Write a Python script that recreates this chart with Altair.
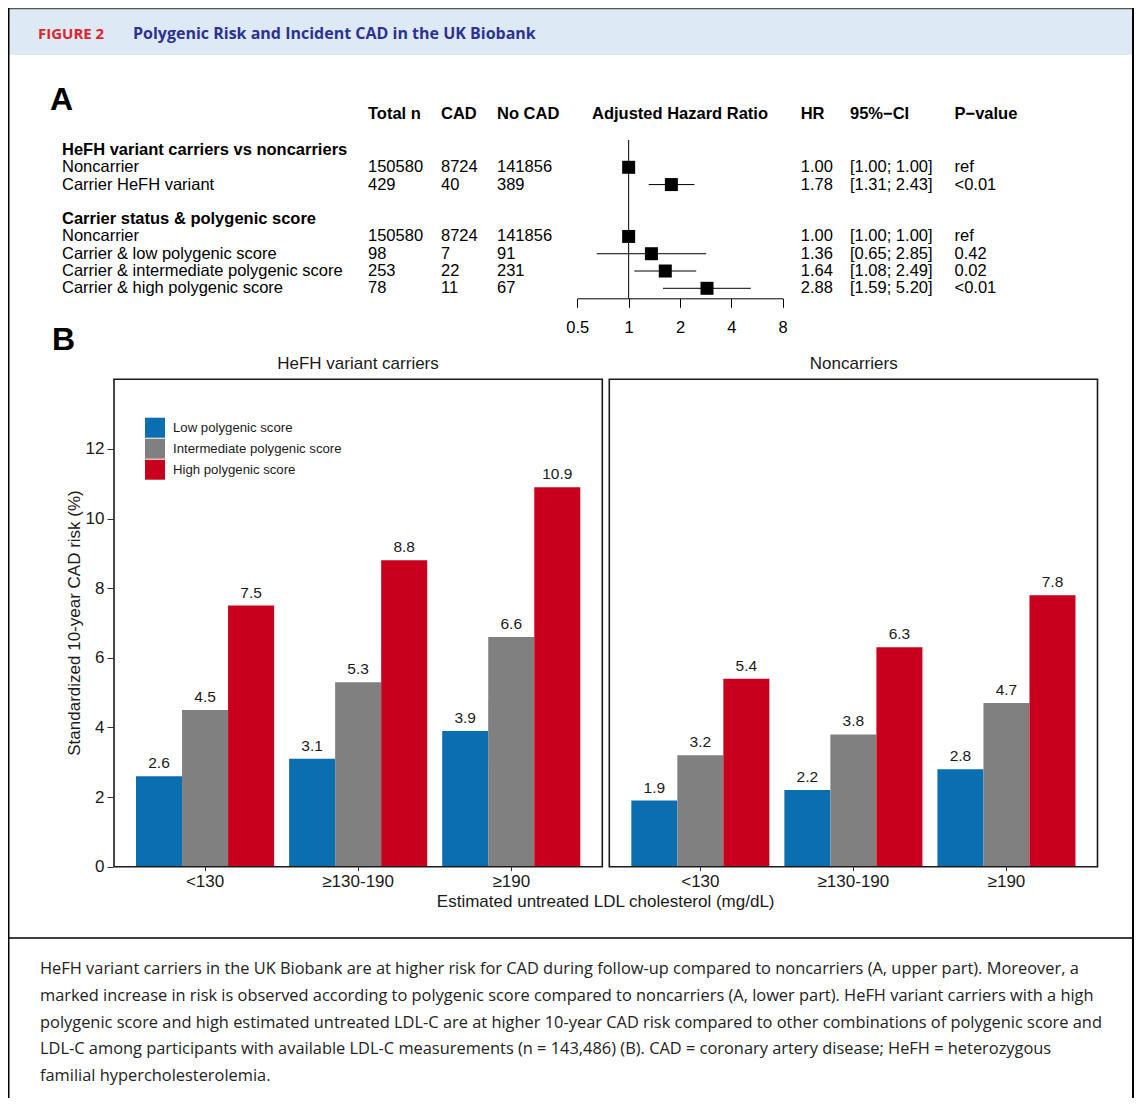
import altair as alt
import pandas as pd

W, H = 1126, 1090
FONT = "Liberation Sans"
CAPFONT = "Open Sans"

# ---------------- Panel A data ----------------
group_headers = ["HeFH variant carriers vs noncarriers", "Carrier status & polygenic score"]
group_rows = [0, 4]
row_labels = ["Noncarrier", "Carrier HeFH variant", "Noncarrier",
              "Carrier & low polygenic score", "Carrier & intermediate polygenic score",
              "Carrier & high polygenic score"]
row_idx = [1, 2, 5, 6, 7, 8]
total_n = [150580, 429, 150580, 98, 253, 78]
cad = [8724, 40, 8724, 7, 22, 11]
no_cad = [141856, 389, 141856, 91, 231, 67]
hr = [1.00, 1.78, 1.00, 1.36, 1.64, 2.88]
ci_lo = [1.00, 1.31, 1.00, 0.65, 1.08, 1.59]
ci_hi = [1.00, 2.43, 1.00, 2.85, 2.49, 5.20]
pval = ["ref", "<0.01", "ref", "0.42", "0.02", "<0.01"]
col_headers = ["Total n", "CAD", "No CAD", "HR", "95%\u2212CI", "P\u2212value"]
col_header_idx = [1, 2, 3, 4, 5, 6]
hr_ticks = [0.5, 1, 2, 4, 8]

# ---------------- Panel B data ----------------
ldl_levels = ["<130", "\u2265130-190", "\u2265190"]
score_levels = ["Low polygenic score", "Intermediate polygenic score", "High polygenic score"]
score_colors = ["#0a6eb0", "#808080", "#c8001e"]
carrier_values = [[2.6, 4.5, 7.5], [3.1, 5.3, 8.8], [3.9, 6.6, 10.9]]
noncarrier_values = [[1.9, 3.2, 5.4], [2.2, 3.8, 6.3], [2.8, 4.7, 7.8]]
y_ticks = [0, 2, 4, 6, 8, 10, 12]

caption_lines = [
    "HeFH variant carriers in the UK Biobank are at higher risk for CAD during follow-up compared to noncarriers (A, upper part). Moreover, a",
    "marked increase in risk is observed according to polygenic score compared to noncarriers (A, lower part). HeFH variant carriers with a high",
    "polygenic score and high estimated untreated LDL-C are at higher 10-year CAD risk compared to other combinations of polygenic score and",
    "LDL-C among participants with available LDL-C measurements (n = 143,486) (B). CAD = coronary artery disease; HeFH = heterozygous",
    "familial hypercholesterolemia.",
]

# ---------------- tables ----------------
table_rows = []
for i in range(len(row_labels)):
    vals = [row_labels[i], str(total_n[i]), str(cad[i]), str(no_cad[i]),
            f"{hr[i]:.2f}", f"[{ci_lo[i]:.2f}; {ci_hi[i]:.2f}]", pval[i]]
    for c, v in enumerate(vals):
        table_rows.append({"row": row_idx[i], "col": c, "txt": v})
table_df = pd.DataFrame(table_rows)
groups_df = pd.DataFrame({"row": group_rows, "col": [0, 0], "txt": group_headers})
colhead_df = pd.DataFrame({"col": col_header_idx, "txt": col_headers})
forest_df = pd.DataFrame({"row": row_idx, "hr": hr, "lo": ci_lo, "hi": ci_hi})
ref_df = pd.DataFrame({"ref": [1.0]})

bars = []
for panel, vals in (("carrier", carrier_values), ("noncarrier", noncarrier_values)):
    for li, l in enumerate(ldl_levels):
        for si, s in enumerate(score_levels):
            bars.append({"panel": panel, "ldl": l, "score": s, "value": vals[li][si]})
bars_df = pd.DataFrame(bars)
cap_df = pd.DataFrame({"i": list(range(len(caption_lines))), "line": caption_lines})
one = pd.DataFrame({"k": [0]})

# ---------------- scales ----------------
col_scale = alt.Scale(domain=[0, 1, 2, 3, 4, 5, 6],
                      range=[54, 360, 433, 489, 792.7, 842, 946.5])
row_scale = alt.Scale(domain=[0, 8], range=[142, 280.3])
log_scale = alt.Scale(type="log", base=2, domain=[0.5, 8], range=[569.3, 774.7])
y_bar = alt.Scale(domain=[0, 14], range=[858.7, 371.3])
x_left = alt.Scale(domain=ldl_levels, range=[106, 594.3], paddingInner=0.098, paddingOuter=0.1438)
x_right = alt.Scale(domain=ldl_levels, range=[601.3, 1089.5], paddingInner=0.098, paddingOuter=0.1438)
off_scale = alt.Scale(domain=score_levels, paddingInner=0, paddingOuter=0)
off_scale_txt = alt.Scale(type="point", domain=score_levels, padding=0.5)
color_scale = alt.Scale(domain=score_levels, range=score_colors)

layers = []

def deco_text(txt, x, y, size, weight="normal", color="black", align="left",
              baseline="alphabetic", font=FONT, angle=0):
    return alt.Chart(one).mark_text(
        align=align, baseline=baseline, font=font, fontSize=size, fontWeight=weight,
        color=color, angle=angle
    ).encode(x=alt.value(x), y=alt.value(y), text=alt.value(txt))

# header band + frame
layers.append(alt.Chart(one).mark_rect(color="#dde9f5").encode(
    x=alt.value(1), x2=alt.value(W - 1), y=alt.value(1), y2=alt.value(47)))
layers.append(alt.Chart(one).mark_rule(color="#555555", strokeWidth=1.5).encode(
    x=alt.value(0), x2=alt.value(W), y=alt.value(0.5)))
layers.append(alt.Chart(one).mark_rule(color="black", strokeWidth=2).encode(
    x=alt.value(0.5), y=alt.value(0), y2=alt.value(H)))
layers.append(alt.Chart(one).mark_rule(color="black", strokeWidth=2).encode(
    x=alt.value(W - 1), y=alt.value(0), y2=alt.value(H)))
layers.append(alt.Chart(one).mark_rule(color="black", strokeWidth=1.5).encode(
    x=alt.value(0), x2=alt.value(W), y=alt.value(930)))

layers.append(deco_text("FIGURE 2", 30, 31, 15, "bold", "#e0232b", font=CAPFONT))
layers.append(deco_text("Polygenic Risk and Incident CAD in the UK Biobank", 125, 31, 16,
                        "bold", "#2d3192", font=CAPFONT))
layers.append(deco_text("A", 42, 102, 32, "bold"))
layers.append(deco_text("B", 44, 342, 32, "bold"))

# ---------------- Panel A ----------------
layers.append(alt.Chart(colhead_df).mark_text(
    align="left", baseline="middle", font=FONT, fontSize=16.5, fontWeight="bold", color="black"
).encode(x=alt.X("col:Q", scale=col_scale, axis=None), y=alt.value(106), text="txt:N"))
layers.append(deco_text("Adjusted Hazard Ratio", 672, 106, 16.5, "bold", align="center",
                        baseline="middle"))
layers.append(alt.Chart(groups_df).mark_text(
    align="left", baseline="middle", font=FONT, fontSize=16.5, fontWeight="bold", color="black"
).encode(x=alt.X("col:Q", scale=col_scale, axis=None),
         y=alt.Y("row:Q", scale=row_scale, axis=None), text="txt:N"))
layers.append(alt.Chart(table_df).mark_text(
    align="left", baseline="middle", font=FONT, fontSize=16.5, color="black"
).encode(x=alt.X("col:Q", scale=col_scale, axis=None),
         y=alt.Y("row:Q", scale=row_scale, axis=None), text="txt:N"))

layers.append(alt.Chart(ref_df).mark_rule(color="black", strokeWidth=1).encode(
    x=alt.X("ref:Q", scale=log_scale, axis=None), y=alt.value(132), y2=alt.value(290.3)))
layers.append(alt.Chart(forest_df).mark_rule(color="black", strokeWidth=1).encode(
    x=alt.X("lo:Q", scale=log_scale, axis=None), x2="hi:Q",
    y=alt.Y("row:Q", scale=row_scale, axis=None)))
layers.append(alt.Chart(forest_df).mark_square(size=169, color="black", opacity=1).encode(
    x=alt.X("hr:Q", scale=log_scale, title=None,
            axis=alt.Axis(orient="bottom", offset=290.3 - H, values=hr_ticks, format="~g",
                          tickSize=9, labelPadding=12, labelFontSize=16.5, labelFlush=False,
                          labelOverlap=False, grid=False, domainColor="black",
                          tickColor="black", labelColor="black")),
    y=alt.Y("row:Q", scale=row_scale, axis=None)))

# ---------------- Panel B ----------------
left = bars_df[bars_df.panel == "carrier"]
right = bars_df[bars_df.panel == "noncarrier"]

def bar_layer(df, xscale, with_y_axis, with_legend):
    xaxis = alt.Axis(orient="bottom", offset=858.7 - H, tickSize=4, labelPadding=3,
                     labelFontSize=17, domain=False, grid=False, labelAngle=0,
                     tickColor="#333333", labelColor="#1a1a1a")
    if with_y_axis:
        yaxis = alt.Axis(orient="left", offset=-105, values=y_ticks, tickSize=6,
                         labelPadding=3, labelFontSize=17, domain=False, grid=False,
                         tickColor="#333333", labelColor="#1a1a1a")
    else:
        yaxis = None
    if with_legend:
        legend = alt.Legend(orient="none", legendX=137, legendY=409.7, title=None,
                            symbolType="square", symbolSize=400, symbolStrokeWidth=0,
                            symbolOpacity=1, labelFontSize=13.2, labelFont=FONT,
                            labelColor="#1a1a1a", rowPadding=1, labelOffset=8, padding=0,
                            labelLimit=400)
    else:
        legend = None
    b = alt.Chart(df).mark_bar(opacity=1).encode(
        x=alt.X("ldl:N", scale=xscale, axis=xaxis, title=None, sort=ldl_levels),
        xOffset=alt.XOffset("score:N", scale=off_scale, sort=score_levels),
        y=alt.Y("value:Q", scale=y_bar, axis=yaxis, title=None),
        color=alt.Color("score:N", scale=color_scale, legend=legend),
    )
    t = alt.Chart(df).mark_text(baseline="alphabetic", dy=-8, font=FONT, fontSize=15.5,
                                color="#1a1a1a").encode(
        x=alt.X("ldl:N", scale=xscale, axis=None, sort=ldl_levels),
        xOffset=alt.XOffset("score:N", scale=off_scale_txt, sort=score_levels),
        y=alt.Y("value:Q", scale=y_bar, axis=None),
        text=alt.Text("value:Q", format=".1f"),
    )
    return [b, t]

layers += bar_layer(left, x_left, True, True)
layers += bar_layer(right, x_right, False, False)

for x1, x2 in ((106, 594.3), (601.3, 1089.5)):
    layers.append(alt.Chart(one).mark_rect(fillOpacity=0, stroke="#1a1a1a", strokeWidth=1.6).encode(
        x=alt.value(x1), x2=alt.value(x2), y=alt.value(371.3), y2=alt.value(858.7)))

layers.append(deco_text("HeFH variant carriers", 350, 356, 17, align="center", baseline="middle",
                        color="#1a1a1a"))
layers.append(deco_text("Noncarriers", 845.7, 356, 17, align="center", baseline="middle",
                        color="#1a1a1a"))
layers.append(deco_text("Standardized 10-year CAD risk (%)", 67, 615, 17, align="center",
                        baseline="middle", color="#1a1a1a", angle=270))
layers.append(deco_text("Estimated untreated LDL cholesterol (mg/dL)", 597.7, 894, 17,
                        align="center", baseline="middle", color="#1a1a1a"))

# ---------------- caption ----------------
layers.append(alt.Chart(cap_df).mark_text(
    align="left", baseline="middle", font=CAPFONT, fontSize=16.4, color="#222222"
).encode(x=alt.value(32),
         y=alt.Y("i:Q", scale=alt.Scale(domain=[0, 4], range=[961, 1068]), axis=None),
         text="line:N"))

chart = alt.layer(*layers).resolve_scale(
    x="independent", y="independent", color="independent", xOffset="independent"
).properties(
    width=W, height=H, padding=0, autosize=alt.AutoSizeParams(type="none")
).configure_view(stroke=None).configure_axis(labelFont=FONT)

chart.save("out.html", embed_options={"renderer": "svg", "actions": False})
